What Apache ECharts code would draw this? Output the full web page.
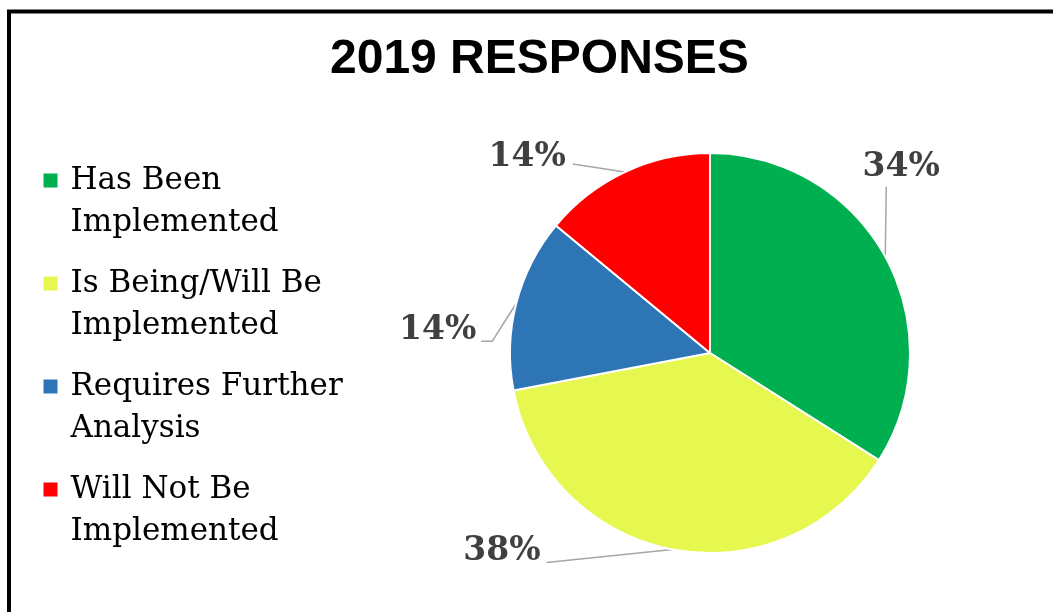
<!DOCTYPE html>
<html><head><meta charset="utf-8">
<script src="https://cdn.jsdelivr.net/npm/echarts@6/dist/echarts.min.js"></script>
<style>html,body{margin:0;padding:0;background:#fff;}#c{width:1053px;height:612px;}</style>
</head><body><div id="c"></div>
<script>
const titleText = '2019 RESPONSES';
const categories = ['Has Been Implemented', 'Is Being/Will Be Implemented', 'Requires Further Analysis', 'Will Not Be Implemented'];
const legendLines = {
  'Has Been Implemented': ['Has Been', 'Implemented'],
  'Is Being/Will Be Implemented': ['Is Being/Will Be', 'Implemented'],
  'Requires Further Analysis': ['Requires Further', 'Analysis'],
  'Will Not Be Implemented': ['Will Not Be', 'Implemented']
};
const values = [34, 38, 14, 14];
const colors = ['#00b050', '#e6f74f', '#2e75b6', '#ff0000'];

// leader-line styling per slice: line points relative to the slice edge anchor, label offset, text align
const leader = [
  {pts: [[1, -70]], lab: [16, -89], align: 'center'},
  {pts: [[-126, 13]], lab: [-132, 2], align: 'right'},
  {pts: [[-24, 38], [-35, 38]], lab: [-40, 27], align: 'right'},
  {pts: [[-52, -8]], lab: [-59, -15], align: 'right'}
];

const chart = echarts.init(document.getElementById('c'), null, {renderer: 'canvas'});
chart.setOption({
  backgroundColor: '#fff',
  animation: false,
  graphic: [{
    type: 'polyline', silent: true,
    shape: {points: [[9, 620], [9, 11.5], [1060, 11.5]]},
    style: {stroke: '#000', lineWidth: 4, fill: null}
  }],
  title: {
    text: titleText, left: 325, top: 31,
    textStyle: {fontFamily: "'Liberation Sans', Arial, sans-serif", fontWeight: 'bold', fontSize: 48, color: '#000'}
  },
  legend: {
    orient: 'vertical', left: 36.5, top: 112.5,
    icon: 'rect', itemWidth: 16, itemHeight: 16, itemGap: -23,
    formatter: n => '\n' + legendLines[n].join('\n'),
    textStyle: {fontFamily: "'DejaVu Serif', serif", fontSize: 31, lineHeight: 42, color: '#000', padding: [0, 0, 0, 7]},
    data: categories
  },
  series: [{
    type: 'pie',
    center: [710, 353], radius: 200,
    startAngle: 90, clockwise: true,
    itemStyle: {borderColor: '#fff', borderWidth: 2},
    label: {
      formatter: p => p.value + '%',
      fontFamily: "'DejaVu Serif', serif", fontWeight: 'bold', fontSize: 33, color: '#404040'
    },
    labelLine: {length: 20, length2: 20, lineStyle: {color: '#a6a6a6', width: 1.5}},
    labelLayout: function (p) {
      const a = p.labelLinePoints[0];
      const L = leader[p.dataIndex];
      const pts = [[a[0], a[1]]].concat(L.pts.map(d => [a[0] + d[0], a[1] + d[1]]));
      return {
        x: a[0] + L.lab[0], y: a[1] + L.lab[1],
        align: L.align, verticalAlign: 'middle',
        labelLinePoints: pts
      };
    },
    data: categories.map((c, i) => ({name: c, value: values[i], itemStyle: {color: colors[i]}}))
  }]
});
</script></body></html>
